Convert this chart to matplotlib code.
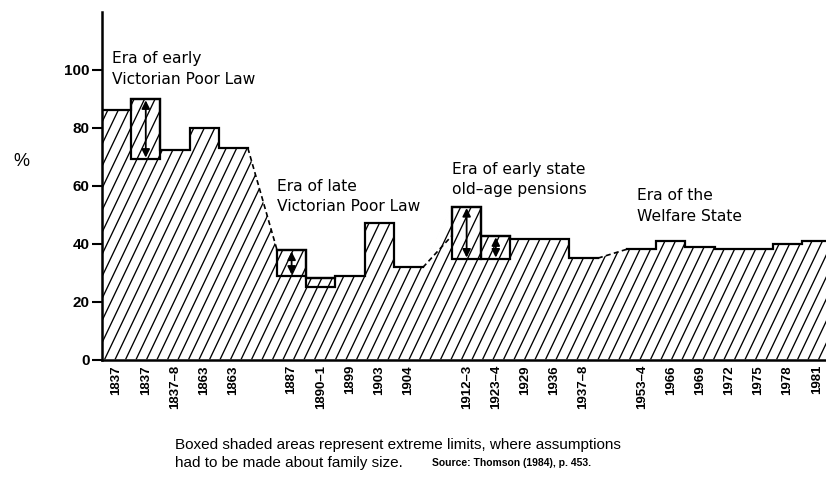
import matplotlib
matplotlib.use("Agg")
import matplotlib.pyplot as plt
import numpy as np
from matplotlib.patches import Polygon, Rectangle
from matplotlib.collections import LineCollection

plt.rcParams["font.family"] = ["Liberation Sans", "DejaVu Sans"]

# survey years, in drawing order
labels = ["1837", "1837", "1837–8", "1863", "1863", "1887", "1890–1", "1899",
          "1903", "1904", "1912–3", "1923–4", "1929", "1936", "1937–8",
          "1953–4", "1966", "1969", "1972", "1975", "1978", "1981"]
# upper and lower estimate (equal where no box)
high = [86.2, 90.0, 72.4, 80.1, 73.0, 37.8, 28.0, 28.8, 47.3, 31.8, 52.8,
        42.7, 41.5, 41.5, 35.0, 38.1, 41.0, 38.8, 38.1, 38.1, 39.9, 41.0]
low = [86.2, 69.2, 72.4, 80.1, 73.0, 28.8, 25.1, 28.8, 47.3, 31.8, 34.7,
       34.7, 41.5, 41.5, 35.0, 38.1, 41.0, 38.8, 38.1, 38.1, 39.9, 41.0]
# breaks in the series (dashed joins) after these entries
gap_after = [4, 9, 14]
gap_end = [37.8, 42.8, 38.1]

eras = ["Era of early\nVictorian Poor Law", "Era of late\nVictorian Poor Law",
        "Era of early state\nold–age pensions", "Era of the\nWelfare State"]
era_xy = [(0.34, 100.3), (6.0, 56.3), (12.0, 62.1), (18.34, 53.0)]

# slot position of each entry, one empty slot per break
pos = []
p = 0
for i in range(len(labels)):
    pos.append(p)
    p += 2 if i in gap_after else 1

fig = plt.figure(figsize=(8.26, 4.82), dpi=100)
ax = fig.add_axes([0.1235, 0.2541, 0.8765, 0.7210])
ax.set_xlim(0, 24.82)
ax.set_ylim(0, 120)

# outline of the shaded area
px, py = [pos[0]], [0]
runs, run = [], []
dashes = []
for i, (x, h) in enumerate(zip(pos, high)):
    px += [x, x + 1]
    py += [h, h]
    run += [(x, h), (x + 1, h)]
    if i in gap_after:
        e = gap_end[gap_after.index(i)]
        dashes.append([(x + 1, h), (x + 2, e)])
        runs.append(run)
        run = [(x + 2, e)]
runs.append(run)
px.append(pos[-1] + 1)
py.append(0)

poly = Polygon(np.column_stack([px, py]), closed=True, facecolor="white",
               edgecolor="none", zorder=1)
ax.add_patch(poly)

# steep diagonal hatching, clipped to the shaded area
W, H = 724.0, 347.5
step = 10.5 / W
rise = H / (2.1 * W)
offs = np.arange(-rise, 1.0, step)
segs = [[(c, 0), (c + rise, 1)] for c in offs]
lc = LineCollection(segs, colors="black", linewidths=0.95,
                    transform=ax.transAxes, zorder=2)
lc.set_clip_path(poly)
ax.add_collection(lc)

for r in runs:
    xs, ys = zip(*r)
    ax.plot(xs, ys, color="black", lw=1.6, zorder=3, solid_joinstyle="miter")
for d in dashes:
    xs, ys = zip(*d)
    ax.plot(xs, ys, color="black", lw=1.2, ls=(0, (3, 2)), zorder=3)

# boxes for extreme limits
for x, lo, hi in zip(pos, low, high):
    if hi - lo > 0.5:
        ax.add_patch(Rectangle((x, lo), 1, hi - lo, fill=False,
                               edgecolor="black", lw=1.6, zorder=4))
        if hi - lo > 5:
            ax.annotate("", xy=(x + 0.5, hi - 0.5), xytext=(x + 0.5, lo + 0.5),
                        arrowprops=dict(arrowstyle="<|-|>", color="black",
                                        lw=1.3, mutation_scale=12,
                                        shrinkA=0, shrinkB=0), zorder=5)

for t, (tx, ty) in zip(eras, era_xy):
    ax.text(tx, ty, t, fontsize=11.2, ha="left", va="center",
            family="DejaVu Sans", linespacing=1.45, zorder=6)

ax.set_xticks(np.array(pos) + 0.5)
ax.set_xticklabels(labels, rotation=90, fontsize=9.5, fontweight="bold")
ax.tick_params(axis="x", length=0, pad=4)
ax.set_yticks(range(0, 101, 20))
ax.tick_params(axis="y", direction="out", length=7, width=1.5, pad=2,
               labelsize=11)
for lab in ax.get_yticklabels():
    lab.set_fontweight("bold")
ax.spines["top"].set_visible(False)
ax.spines["right"].set_visible(False)
ax.spines["left"].set_linewidth(1.8)
ax.spines["bottom"].set_linewidth(1.8)

fig.text(21 / 826, 1 - 162 / 482, "%", fontsize=13, ha="center", va="center")
fig.text(175 / 826, 1 - 445 / 482,
         "Boxed shaded areas represent extreme limits, where assumptions",
         fontsize=11, va="center")
fig.text(175 / 826, 1 - 463 / 482, "had to be made about family size.",
         fontsize=11, va="center")
fig.text(432 / 826, 1 - 463 / 482, "Source: Thomson (1984), p. 453.",
         fontsize=7.5, fontweight="bold", va="center")

fig.savefig("out.png", dpi=100)
